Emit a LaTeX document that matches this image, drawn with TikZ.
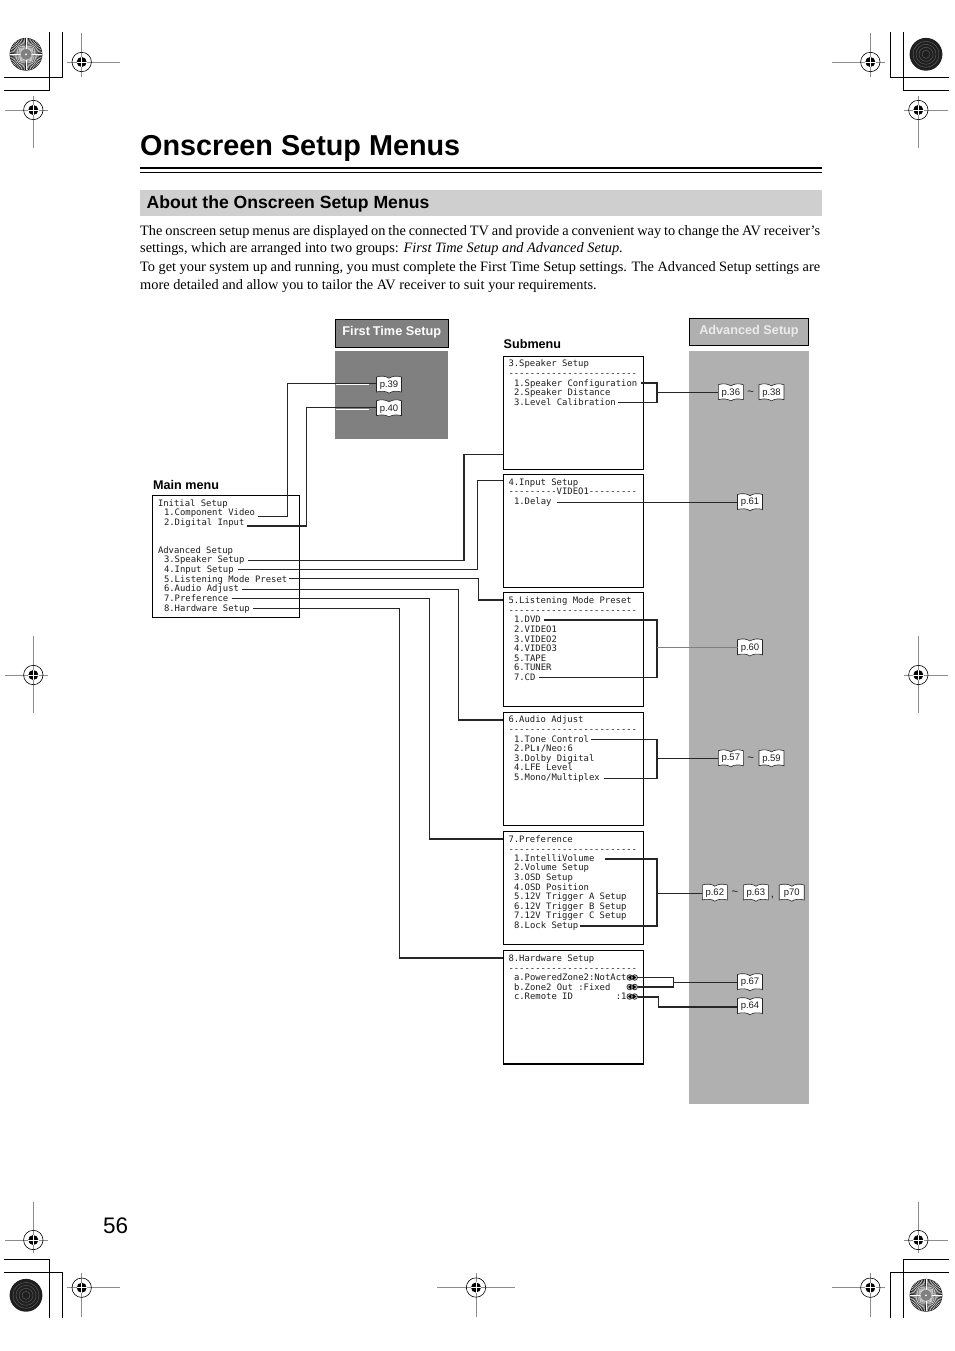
\documentclass[tikz,border=0pt]{standalone}
\usepackage{fontspec}
\setmainfont{Liberation Serif}
\setsansfont{Liberation Sans}
\newfontfamily\menufont{DejaVu Sans Mono}
\newfontfamily\symfont{DejaVu Sans}
\definecolor{panelA}{HTML}{808080}
\definecolor{panelB}{HTML}{B0B0B0}
\definecolor{bandgray}{HTML}{CFCFCF}
\definecolor{inkgray}{HTML}{1E1E1E}
\tikzset{
  menubox/.style={draw=black,line width=1.1pt,inner sep=0pt,outer sep=0pt},
  panel/.style={inner sep=0pt,outer sep=0pt},
  headbox/.style={draw=black,line width=1pt,inner sep=0pt,outer sep=0pt,text=white,font=\sffamily\bfseries\fontsize{12.7}{14}\selectfont},
  mline/.style={anchor=base west,inner sep=0pt,outer sep=0pt,text=inkgray,font=\menufont\fontsize{8.9}{9}\selectfont},
  conn/.style={draw=black!85,line width=1.2pt,line join=miter},
  crop/.style={draw=black,line width=1pt},
  hair/.style={draw=black!45,line width=.9pt},
  tagtext/.style={inner sep=0pt,outer sep=0pt,minimum width=25pt,minimum height=15.5pt,text=inkgray,font=\sffamily\fontsize{9.5}{10}\selectfont},
  tagshape/.style={fill=white,draw=black!85,line width=.6pt},
  titletext/.style={anchor=base west,inner sep=0pt,font=\sffamily\bfseries},
  bodyline/.style={anchor=base west,inner sep=0pt,font=\fontsize{14.35}{16}\selectfont},
  icondot/.style={circle,draw=black!85,fill=black!20,line width=.7pt,minimum size=5.6pt,inner sep=0pt},
  tagmark/.style={inner sep=0pt,font=\sffamily\fontsize{11.5}{12}\selectfont,text=inkgray}
}
\newcommand{\ptag}[4]{%
  \begin{scope}[shift={(#2,#3)}]
    \path[tagshape] (-12.5,-8) .. controls (-8,-9.5) and (-3,-9) .. (0,-6.8)
       .. controls (3,-9) and (8,-9.5) .. (12.5,-8) -- (12.5,7)
       .. controls (8,5.7) and (3,6) .. (0,8.2)
       .. controls (-3,6) and (-8,5.7) .. (-12.5,7) -- cycle;
  \end{scope}
  \node[tagtext] (#1) at (#2,#3) {\raisebox{-.7pt}{#4}};}
\newcommand{\regmark}[6]{%
  \draw[hair] (#3,#2) -- (#4,#2);
  \draw[hair] (#1,#5) -- (#1,#6);
  \draw[black,line width=.6pt] (#1,#2) circle[radius=9.7pt];
  \fill[black] (#1,#2) circle[radius=5pt];
  \draw[white,line width=.8pt] (#1-5.2,#2) -- (#1+5.2,#2) (#1,#2-5.2) -- (#1,#2+5.2);}
\newcommand{\sundisk}[2]{%
  \fill[black!90] (#1,#2) circle[radius=16.4pt];
  \foreach \aa in {0,6,...,354}{\draw[white,line width=.42pt] (#1,#2) ++(\aa:5) -- ++(\aa:11);}
  \fill[black!50] (#1,#2) circle[radius=5.5pt];
  \fill[white] (#1,#2) circle[radius=1pt];}
\newcommand{\ringdisk}[2]{%
  \fill[black!88] (#1,#2) circle[radius=16.4pt];
  \foreach \rr in {4,7,10,13}{\draw[black!65,line width=.5pt] (#1,#2) circle[radius=\rr pt];}}
\begin{document}
\begin{tikzpicture}[x=1pt,y=-1pt]
\useasboundingbox (0,0) rectangle (954,1351);
\fill[white] (0,0) rectangle (954,1351);

% printer's marks
\draw[crop] (4,91) -- (49.3,91) -- (49.3,32);
\draw[crop] (4,77.3) -- (62.3,77.3) -- (62.3,32);
\draw[crop] (949,77.3) -- (890.7,77.3) -- (890.7,32);
\draw[crop] (949,91) -- (903.3,91) -- (903.3,32);
\draw[crop] (4,1259.3) -- (49.3,1259.3) -- (49.3,1318);
\draw[crop] (4,1272.3) -- (62.3,1272.3) -- (62.3,1318);
\draw[crop] (949,1272.3) -- (890.7,1272.3) -- (890.7,1318);
\draw[crop] (949,1259.3) -- (903.3,1259.3) -- (903.3,1318);
\sundisk{26}{54.3}
\ringdisk{926}{54.3}
\ringdisk{26}{1295.3}
\sundisk{926}{1295.3}
\regmark{81.7}{62}{67}{120}{33}{76.7}
\regmark{33.3}{110}{5}{48}{96}{148}
\regmark{870.3}{62}{832}{885}{33}{76.7}
\regmark{918.3}{110}{904}{948}{96}{148}
\regmark{33.3}{675}{5}{48}{636}{713}
\regmark{918.3}{675}{904}{948}{636}{713}
\regmark{33.3}{1240}{5}{48}{1202}{1253}
\regmark{918.3}{1240}{904}{948}{1202}{1253}
\regmark{81.7}{1287.7}{67}{120}{1273}{1317}
\regmark{476}{1287.5}{437}{515}{1273}{1317}
\regmark{870.3}{1287.7}{832}{885}{1273}{1317}

% page head
\node[titletext,font=\sffamily\bfseries\fontsize{28.8}{30}\selectfont] (title) at (140,156) {Onscreen Setup Menus};
\fill[black] (140,166.8) rectangle (821.5,169);
\fill[black] (140,172) rectangle (821.5,172.9);
\fill[bandgray] (140,190) rectangle (822,216);
\node[titletext,font=\sffamily\bfseries\fontsize{17.6}{19}\selectfont] (heading) at (146.5,208.3) {About the Onscreen Setup Menus};
\node[bodyline] (bodyA) at (140,235) {\makebox[680pt][s]{The onscreen setup menus are displayed on the connected TV and provide a convenient way to change the AV receiver’s}};
\node[bodyline] (bodyB) at (140,252.7) {settings, which are arranged into two groups: \textit{First Time Setup and Advanced Setup}.};
\node[bodyline] (bodyC) at (140,271.5) {\makebox[680pt][s]{To get your system up and running, you must complete the First Time Setup settings. The Advanced Setup settings are}};
\node[bodyline] (bodyD) at (140,289.3) {more detailed and allow you to tailor the AV receiver to suit your requirements.};
\node[titletext,font=\sffamily\fontsize{22.5}{24}\selectfont] (pageno) at (103,1233) {56};

% panels
\node[panel,fill=panelA,minimum width=113pt,minimum height=88pt] (panelfirst) at (391.8,395) {};
\node[panel,fill=panelB,minimum width=119.4pt,minimum height=752.7pt] (paneladv) at (749,727.35) {};
\node[headbox,fill=panelA,minimum width=113pt,minimum height=28pt] (headfirst) at (391.8,333.3) {\raisebox{5pt}{First\kern-.6pt\ Time Setup}};
\node[headbox,fill=panelB,minimum width=119.4pt,minimum height=27pt,text=white!92!black] (headadv) at (749,331.8) {\raisebox{3pt}{Advanced Setup}};

\node[titletext,font=\sffamily\bfseries\fontsize{12.6}{14}\selectfont] (labmain) at (153,489) {Main menu};
\node[titletext,font=\sffamily\bfseries\fontsize{12.6}{14}\selectfont] (labsub) at (503.5,348) {Submenu};

% menu frames
\node[menubox,minimum width=147.2pt,minimum height=122pt] (mainbox) at (225.9,556.3) {};
\node[menubox,minimum width=140pt,minimum height=112.6pt] (boxC) at (573.3,413) {};
\node[menubox,minimum width=140pt,minimum height=113pt] (boxD) at (573.3,530.8) {};
\node[menubox,minimum width=140pt,minimum height=113.6pt] (boxE) at (573.3,649.5) {};
\node[menubox,minimum width=140pt,minimum height=113.4pt] (boxF) at (573.3,769) {};
\node[menubox,minimum width=140pt,minimum height=113pt] (boxG) at (573.3,887.8) {};
\node[menubox,minimum width=140pt,minimum height=113.3pt] (boxH) at (573.3,1007.35) {};

% main menu text
\node[mline] (mA) at (158,506) {Initial Setup};
\node[mline] (m1) at (164,515.3) {1.Component Video};
\node[mline] (m2) at (164,525) {2.Digital Input};
\node[mline] (mB) at (158,553) {Advanced Setup};
\node[mline] (m3) at (164,562.5) {3.Speaker Setup};
\node[mline] (m4) at (164,572.3) {4.Input Setup};
\node[mline] (m5) at (164,582) {5.Listening Mode Preset};
\node[mline] (m6) at (164,591.5) {6.Audio Adjust};
\node[mline] (m7) at (164,601) {7.Preference};
\node[mline] (m8) at (164,611) {8.Hardware Setup};

% submenu 3
\node[mline] (cT) at (508.5,366) {3.Speaker Setup};
\node[mline] (cD) at (508.5,376) {------------------------};
\node[mline] (c1) at (514,386) {1.Speaker Configuration};
\node[mline] (c2) at (514,395.5) {2.Speaker Distance};
\node[mline] (c3) at (514,405) {3.Level Calibration};
% submenu 4
\node[mline] (dT) at (508.5,485) {4.Input Setup};
\node[mline] (dD) at (508.5,494) {---------VIDEO1---------};
\node[mline] (d1) at (514,504) {1.Delay};
% submenu 5
\node[mline] (eT) at (508.5,603) {5.Listening Mode Preset};
\node[mline] (eD) at (508.5,613) {------------------------};
\node[mline] (e1) at (514,622.3) {1.DVD};
\node[mline] (e2) at (514,632) {2.VIDEO1};
\node[mline] (e3) at (514,642) {3.VIDEO2};
\node[mline] (e4) at (514,651) {4.VIDEO3};
\node[mline] (e5) at (514,661) {5.TAPE};
\node[mline] (e6) at (514,670) {6.TUNER};
\node[mline] (e7) at (514,680) {7.CD};
% submenu 6
\node[mline] (fT) at (508.5,722) {6.Audio Adjust};
\node[mline] (fD) at (508.5,732) {------------------------};
\node[mline] (f1) at (514,742) {1.Tone Control};
\node[mline] (f2) at (514,751) {2.PL\makebox[5.35pt]{\symfont\fontsize{7}{8}\selectfont Ⅱ}/Neo:6};
\node[mline] (f3) at (514,761) {3.Dolby Digital};
\node[mline] (f4) at (514,770) {4.LFE Level};
\node[mline] (f5) at (514,780) {5.Mono/Multiplex};
% submenu 7
\node[mline] (gT) at (508.5,842) {7.Preference};
\node[mline] (gD) at (508.5,852) {------------------------};
\node[mline] (g1) at (514,861) {1.IntelliVolume};
\node[mline] (g2) at (514,870.5) {2.Volume Setup};
\node[mline] (g3) at (514,880) {3.OSD Setup};
\node[mline] (g4) at (514,890) {4.OSD Position};
\node[mline] (g5) at (514,899.5) {5.12V Trigger A Setup};
\node[mline] (g6) at (514,909) {6.12V Trigger B Setup};
\node[mline] (g7) at (514,918) {7.12V Trigger C Setup};
\node[mline] (g8) at (514,928) {8.Lock Setup};
% submenu 8
\node[mline] (hT) at (508.5,961) {8.Hardware Setup};
\node[mline] (hD) at (508.5,971) {------------------------};
\node[mline] (h1) at (514,980) {a.PoweredZone2:NotAct};
\node[mline] (h2) at (514,990) {b.Zone2 Out :Fixed};
\node[mline] (h3) at (514,999) {c.Remote ID\ \ \ \ \ \ \ \ :1};

% scroll icons
\foreach \nm/\yy in {iA/977.5,iB/987,iC/996.5}{
  \node[icondot] (\nm l) at (629.7,\yy) {};
  \node[icondot] (\nm r) at (634.7,\yy) {};
  \fill[black] (631.2,\yy-2.2) -- (628,\yy) -- (631.2,\yy+2.2) -- cycle;
  \fill[black] (633.2,\yy-2.2) -- (636.4,\yy) -- (633.2,\yy+2.2) -- cycle;
}

% panel highlights
\draw[white,line width=.7pt] (335.5,384.6) -- (369,384.6);
\draw[white,line width=.7pt] (335.5,409) -- (369,409);

% page tags
\ptag{t39}{389}{385}{p.39}
\ptag{t40}{389}{408.7}{p.40}
\ptag{t36}{730.8}{392.7}{p.36}
\ptag{t38}{771.5}{392.7}{p.38}
\ptag{t61}{750}{502.5}{p.61}
\ptag{t60}{750}{647.8}{p.60}
\ptag{t57}{730.8}{758.7}{p.57}
\ptag{t59}{771.5}{758.7}{p.59}
\ptag{t62}{714.8}{893}{p.62}
\ptag{t63}{755.8}{893}{p.63}
\ptag{t70}{791.7}{893}{p70}
\ptag{t67}{750}{982.5}{p.67}
\ptag{t64}{750}{1006.5}{p.64}
\foreach \nm/\xx/\yy in {tilA/750.7/393,tilB/750.7/759,tilC/735/893}
  \node[tagmark] (\nm) at (\xx,\yy) {\char`\~};
\node[tagmark] (comma) at (772.5,898) {,};

% main menu to panels
\coordinate (p1) at ([shift={(2.7,1.5)}]m1.base east);
\coordinate (p2) at ([shift={(2.7,1)}]m2.base east);
\draw[conn] (p1) -| (287.3,383.4) -- (t39.west |- 287.3,383.4);
\draw[conn] (p2) -| (306.7,407.7) -- (t40.west |- 306.7,407.7);

% main menu to submenus
\coordinate (p3) at (248,560.7);
\coordinate (p4) at (238.3,569.7);
\coordinate (p5) at (289,578.3);
\coordinate (p6) at (241.7,589.3);
\coordinate (p7) at (232.3,598.7);
\coordinate (p8) at (253.3,608.3);
\draw[conn] (p3) -| (464,454.7) -- (boxC.west |- 464,454.7);
\draw[conn] (p4) -| (477.3,480.7) -- (boxD.west |- 477.3,480.7);
\draw[conn] (p5) -| (478.3,600) -- (boxE.west |- 478.3,600);
\draw[conn] (p6) -| (458.3,720) -- (boxF.west |- 458.3,720);
\draw[conn] (p7) -| (429.3,839) -- (boxG.west |- 429.3,839);
\draw[conn] (p8) -| (399.3,958) -- (boxH.west |- 399.3,958);

% submenus to page tags
\coordinate (q1) at (640.7,383);
\coordinate (q2) at (618.3,402.3);
\draw[conn] (q1) -| (657,402.3) -- (q2);
\draw[conn] (657,392.7) -- (t36.west |- 657,392.7);
\coordinate (q3) at (556.7,502.7);
\draw[conn] (q3) -- (t61.west |- q3);
\coordinate (q4) at (544,620);
\coordinate (q5) at (539,677.3);
\draw[conn] (q4) -| (657,677.3) -- (q5);
\draw[conn,draw=black!50] (657,647.7) -- (t60.west |- 657,647.7);
\coordinate (q6) at (590.7,739.7);
\coordinate (q7) at (603.7,778.3);
\draw[conn] (q6) -| (657,778.3) -- (q7);
\draw[conn] (657,758.7) -- (t57.west |- 657,758.7);
\coordinate (q8) at (605,859);
\coordinate (q9) at (580.3,926);
\draw[conn] (q8) -| (657,926) -- (q9);
\draw[conn] (657,893.3) -- (t62.west |- 657,893.3);
\draw[conn] (iAr.east |- 0,977.7) -| (673.3,987) -- (iBr.east |- 0,987);
\draw[conn] (673.3,982.7) -- (t67.west |- 673.3,982.7);
\draw[conn] (iCr.east |- 0,997) -| (658.3,1007) -- (t64.west |- 658.3,1007);
\end{tikzpicture}
\end{document}
